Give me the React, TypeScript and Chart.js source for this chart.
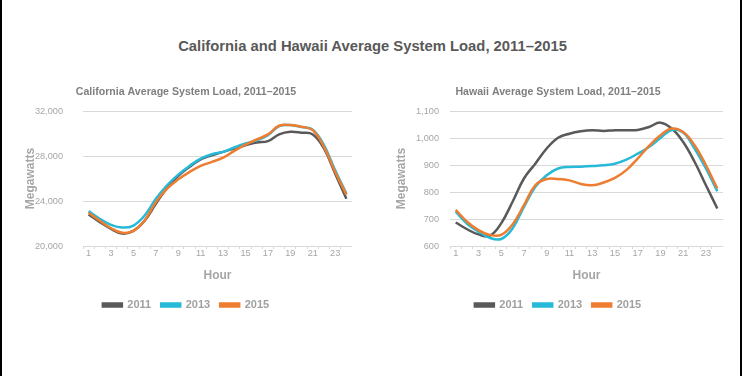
import React, { useEffect, useRef } from 'react';
import { Chart, registerables } from 'chart.js';

Chart.register(...registerables);

const FONT = "'Liberation Sans', Arial, sans-serif";

const mainTitle = 'California and Hawaii Average System Load, 2011–2015';
const hours = ['1', '2', '3', '4', '5', '6', '7', '8', '9', '10', '11', '12', '13', '14', '15', '16', '17', '18', '19', '20', '21', '22', '23', '24'];
const seriesNames = ['2011', '2013', '2015'];
const seriesColors = ['#595959', '#27bad8', '#ed7d31'];

const caTitle = 'California Average System Load, 2011–2015';
const caLoad2011 = [22800, 22120, 21520, 21100, 21350, 22240, 23750, 25150, 26230, 27030, 27710, 28070, 28370, 28670, 28960, 29200, 29320, 29920, 30150, 30070, 29920, 28670, 26430, 24200];
const caLoad2013 = [23100, 22420, 21880, 21640, 21820, 22710, 24200, 25400, 26350, 27120, 27770, 28160, 28370, 28760, 29110, 29410, 29860, 30660, 30750, 30570, 30330, 28960, 26730, 24650];
const caLoad2015 = [22950, 22240, 21580, 21170, 21350, 22270, 23900, 25100, 25930, 26580, 27120, 27480, 27850, 28460, 29020, 29470, 29920, 30690, 30750, 30600, 30300, 28810, 26580, 24560];
const caAxis = [20000, 32000, 4000];

const hiTitle = 'Hawaii Average System Load, 2011–2015';
const hiLoad2011 = [687, 662, 643, 638, 684, 764, 850, 905, 961, 1001, 1016, 1025, 1029, 1026, 1029, 1029, 1030, 1041, 1057, 1035, 985, 912, 825, 739];
const hiLoad2013 = [727, 682, 653, 630, 626, 665, 745, 819, 862, 887, 893, 894, 896, 899, 905, 920, 942, 967, 1000, 1030, 1020, 961, 887, 803];
const hiLoad2015 = [734, 690, 659, 641, 641, 680, 751, 825, 848, 848, 843, 830, 825, 835, 852, 881, 924, 971, 1010, 1035, 1022, 973, 899, 813];
const hiAxis = [600, 1100, 100];

type Props = {
  left: number;
  width: number;
  title: string;
  series: number[][];
  axis: number[];
  axisWidth: number;
  tickPad: number;
  titlePad: number;
};

function LoadChart({ left, width, title, series, axis, axisWidth, tickPad, titlePad }: Props) {
  const ref = useRef<HTMLCanvasElement | null>(null);
  const height = 242;
  useEffect(() => {
    if (!ref.current) return;
    const chart = new Chart(ref.current, {
      type: 'line',
      data: {
        labels: hours,
        datasets: series.map((vals, i) => ({
          label: seriesNames[i],
          data: vals,
          borderColor: seriesColors[i],
          backgroundColor: seriesColors[i],
          borderWidth: 2.5,
          pointRadius: 0,
          tension: 0.4,
          fill: false,
          order: series.length - i,
        })),
      },
      options: {
        animation: false,
        responsive: false,
        devicePixelRatio: 1,
        layout: { padding: { left: 0, right: 0, top: 0, bottom: 1.5 } },
        plugins: {
          title: {
            display: true,
            text: title,
            color: '#7f7f7f',
            font: { family: FONT, size: 10.6, weight: 'bold' },
            padding: { top: 6, bottom: 12.3 },
          },
          legend: {
            position: 'bottom',
            labels: {
              boxWidth: 19,
              boxHeight: 3,
              padding: 10,
              color: '#a0a0a0',
              font: { family: FONT, size: 11, weight: 'bold' },
              sort: (a: any, b: any) => a.datasetIndex - b.datasetIndex,
            },
          },
          tooltip: { enabled: false },
        },
        scales: {
          x: {
            type: 'category',
            offset: true,
            grid: { offset: true, drawOnChartArea: false, drawTicks: true, tickLength: 3, color: '#d9d9d9' },
            border: { display: true, color: '#d9d9d9', width: 1 },
            ticks: {
              autoSkip: false,
              maxRotation: 0,
              padding: -1,
              color: '#a6a6a6',
              font: { family: FONT, size: 9.2 },
              callback: function (this: any, value: any, index: number) {
                return index % 2 === 0 ? hours[index] : '';
              },
            },
            title: {
              display: true,
              text: 'Hour',
              color: '#a6a6a6',
              font: { family: FONT, size: 12, weight: 'bold' },
              padding: { top: 4, bottom: 6.3 },
            },
            afterFit: (scale: any) => {
              scale.height = 43.5;
            },
          },
          y: {
            min: axis[0],
            max: axis[1],
            grid: { color: '#d9d9d9', drawTicks: false, lineWidth: 1 },
            border: { display: false },
            ticks: {
              stepSize: axis[2],
              padding: tickPad,
              color: '#a6a6a6',
              font: { family: FONT, size: 9.2 },
            },
            title: {
              display: true,
              text: 'Megawatts',
              color: '#a6a6a6',
              font: { family: FONT, size: 12, weight: 'bold' },
              padding: { top: titlePad, bottom: 0 },
            },
            afterFit: (scale: any) => {
              scale.width = axisWidth;
            },
          },
        },
      } as any,
    });
    return () => chart.destroy();
  }, []);
  return (
    <canvas
      ref={ref}
      width={width}
      height={height}
      style={{ position: 'absolute', left, top: 80, width, height }}
    />
  );
}

export default function App() {
  return (
    <div style={{ position: 'absolute', left: 0, top: 0, width: 745, height: 376, background: '#fff', overflow: 'hidden' }}>
      <div
        style={{
          position: 'absolute',
          left: 0,
          top: 0,
          width: 742,
          height: 376,
          boxSizing: 'border-box',
          borderLeft: '2px solid #000',
          borderRight: '2px solid #000',
        }}
      />
      <div
        style={{
          position: 'absolute',
          left: 0,
          top: 37,
          width: 745,
          textAlign: 'center',
          fontFamily: FONT,
          fontWeight: 'bold',
          fontSize: 14.8,
          lineHeight: '18px',
          color: '#595959',
        }}
      >
        {mainTitle}
      </div>
      <LoadChart
        left={20}
        width={332}
        title={caTitle}
        series={[caLoad2011, caLoad2013, caLoad2015]}
        axis={caAxis}
        axisWidth={63}
        tickPad={20}
        titlePad={3.3}
      />
      <LoadChart
        left={393}
        width={330}
        title={hiTitle}
        series={[hiLoad2011, hiLoad2013, hiLoad2015]}
        axis={hiAxis}
        axisWidth={57}
        tickPad={11}
        titlePad={1.8}
      />
    </div>
  );
}
